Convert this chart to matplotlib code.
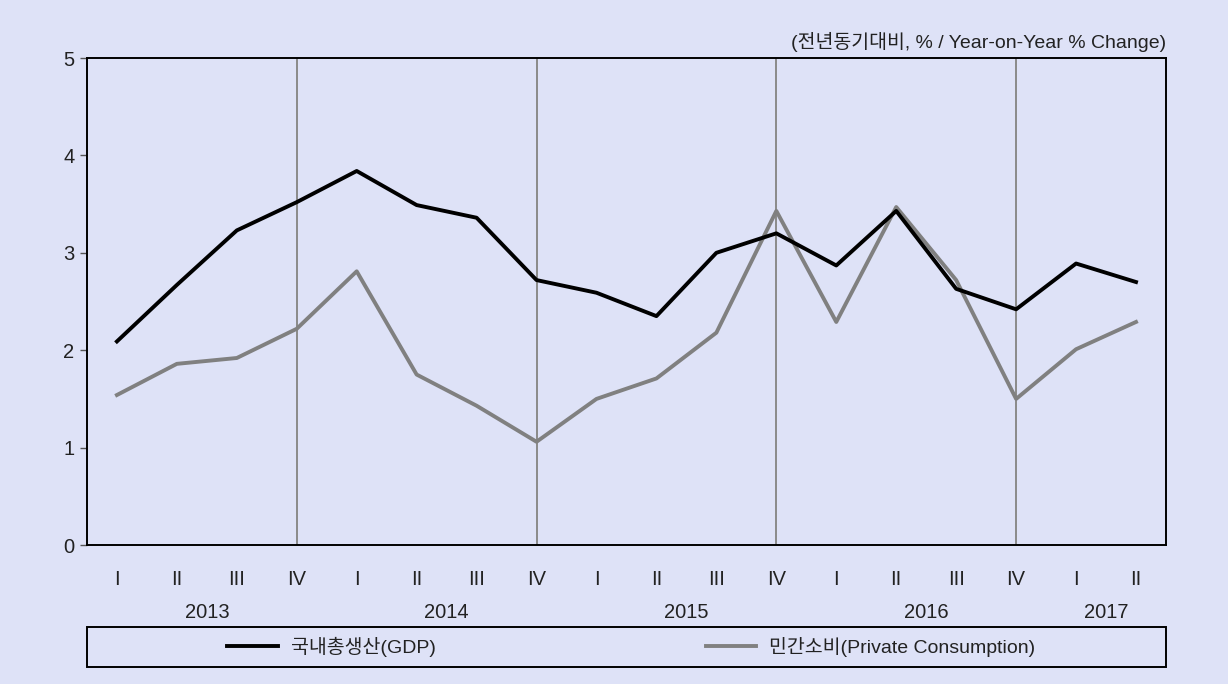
import matplotlib
matplotlib.use("Agg")
import matplotlib.pyplot as plt
from matplotlib.patches import Rectangle
from matplotlib.transforms import blended_transform_factory

plt.rcParams["font.family"] = ["Liberation Sans", "Noto Sans CJK KR", "DejaVu Sans"]

quarters = ["I", "II", "III", "IV"] * 4 + ["I", "II"]
years = ["2013", "2014", "2015", "2016", "2017"]
year_centers = [1.5, 5.5, 9.5, 13.5, 16.5]
gdp = [2.09, 2.67, 3.23, 3.52, 3.84, 3.49, 3.36, 2.72, 2.59, 2.35,
       3.00, 3.20, 2.87, 3.43, 2.63, 2.42, 2.89, 2.70]
consumption = [1.54, 1.86, 1.92, 2.22, 2.81, 1.75, 1.43, 1.06, 1.50, 1.71,
               2.18, 3.43, 2.29, 3.47, 2.72, 1.50, 2.01, 2.29]
divider_idx = [3, 7, 11, 15]

bg = "#dee2f7"
txt = "#222222"
fig = plt.figure(figsize=(12.28, 6.84), dpi=100, facecolor=bg)
ax = fig.add_axes([0.0708, 0.2032, 0.8787, 0.712])
ax.set_facecolor(bg)

x = list(range(len(quarters)))
for d in divider_idx:
    ax.axvline(d, color="#8a8a8a", lw=1.4, zorder=1)
ax.plot(x, gdp, color="black", lw=2.8, label="국내총생산(GDP)", zorder=3)
ax.plot(x, consumption, color="#808080", lw=2.8,
        label="민간소비(Private Consumption)", zorder=2)

ax.set_xlim(-0.5, len(quarters) - 0.5)
ax.set_ylim(0, 5)
ax.set_yticks([0, 1, 2, 3, 4, 5])
ax.set_xticks(x)
ax.set_xticklabels(quarters, fontsize=14.5, color=txt)
ax.tick_params(axis="x", length=0, pad=18)
ax.tick_params(axis="y", length=5, width=1, color="#555555",
               labelsize=14.5, labelcolor=txt, pad=4)
for s in ax.spines.values():
    s.set_linewidth(1.4)
    s.set_color("black")

trans = blended_transform_factory(ax.transData, ax.transAxes)
for yr, c in zip(years, year_centers):
    ax.text(c, -0.138, yr, transform=trans, ha="center", va="center",
            fontsize=14.5, color=txt)

ax.text(1.0, 1.012, "(전년동기대비, % / Year-on-Year % Change)",
        transform=ax.transAxes, ha="right", va="bottom", fontsize=14,
        color=txt)

# legend box below the axes
fig.patches.append(Rectangle((0.0708, (684 - 667) / 684), 0.8787, 40 / 684,
                             transform=fig.transFigure, fill=False,
                             edgecolor="black", lw=1.4))
leg = fig.legend(loc="center", bbox_to_anchor=(0.514, (684 - 647) / 684),
                 ncol=2, frameon=False, fontsize=14, handlelength=2.6,
                 handletextpad=0.67, columnspacing=13.9)
for t in leg.get_texts():
    t.set_color(txt)

fig.savefig("out.png", dpi=100, facecolor=bg)
